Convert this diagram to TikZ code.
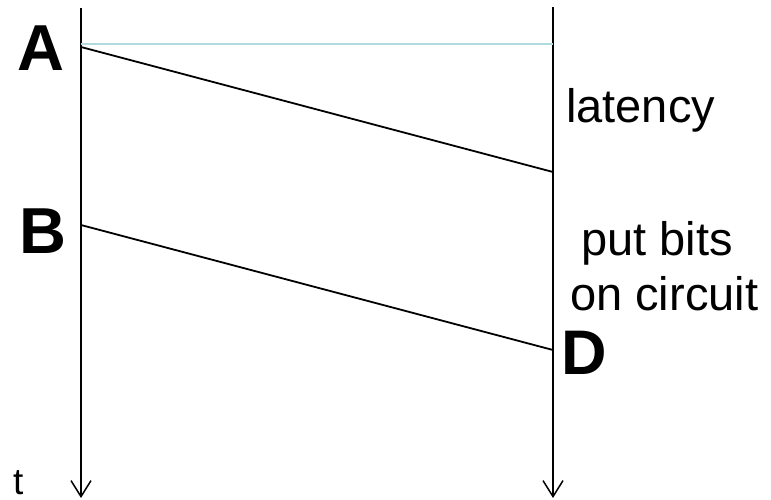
\documentclass[tikz,border=0pt]{standalone}
\usepackage{fontspec}
\setmainfont{Liberation Sans}
\usetikzlibrary{arrows.meta}
\definecolor{lightline}{RGB}{175,218,222}
\tikzset{
  timeline/.style={line width=1.8pt,-{Straight Barb[length=16pt,width=20pt,line width=1.5pt]}},
  msg/.style={line width=1.8pt},
  biglabel/.style={inner sep=0pt,anchor=base west,font=\fontsize{65}{70}\selectfont\bfseries},
  txt/.style={inner sep=0pt,anchor=base west,font=\fontsize{47}{52}\selectfont},
}
\begin{document}
\begin{tikzpicture}[x=1pt,y=-1pt]
\useasboundingbox (0,0) rectangle (771,499);
\coordinate (Ltop) at (81,8);
\coordinate (Lbot) at (81,498);
\coordinate (Rtop) at (553,7);
\coordinate (Rbot) at (553,498);
\coordinate (h1) at (81,44);
\coordinate (h2) at (553,44);
\coordinate (s1) at (81,47);
\coordinate (s2) at (553,172);
\coordinate (b1) at (81,225);
\coordinate (b2) at (553,350);
\draw[timeline] (Ltop) -- (Lbot);
\draw[timeline] (Rtop) -- (Rbot);
\draw[lightline,line width=1.8pt] (h1) -- (h2);
\draw[msg] (s1) -- (s2);
\draw[msg] (b1) -- (b2);
\node[biglabel] (A) at (17,70) {A};
\node[biglabel] (B) at (19,253) {B};
\node[biglabel,font=\fontsize{63}{68}\selectfont\bfseries] (D) at (561,374) {D};
\node[txt] (lat) at (566,122) {latency};
\node[txt] (put) at (581,255) {put bits};
\node[txt] (circ) at (570,310) {on circuit};
\node[inner sep=0pt,anchor=base west,font=\fontsize{37}{40}\selectfont] (t) at (13,494) {t};
\end{tikzpicture}
\end{document}
